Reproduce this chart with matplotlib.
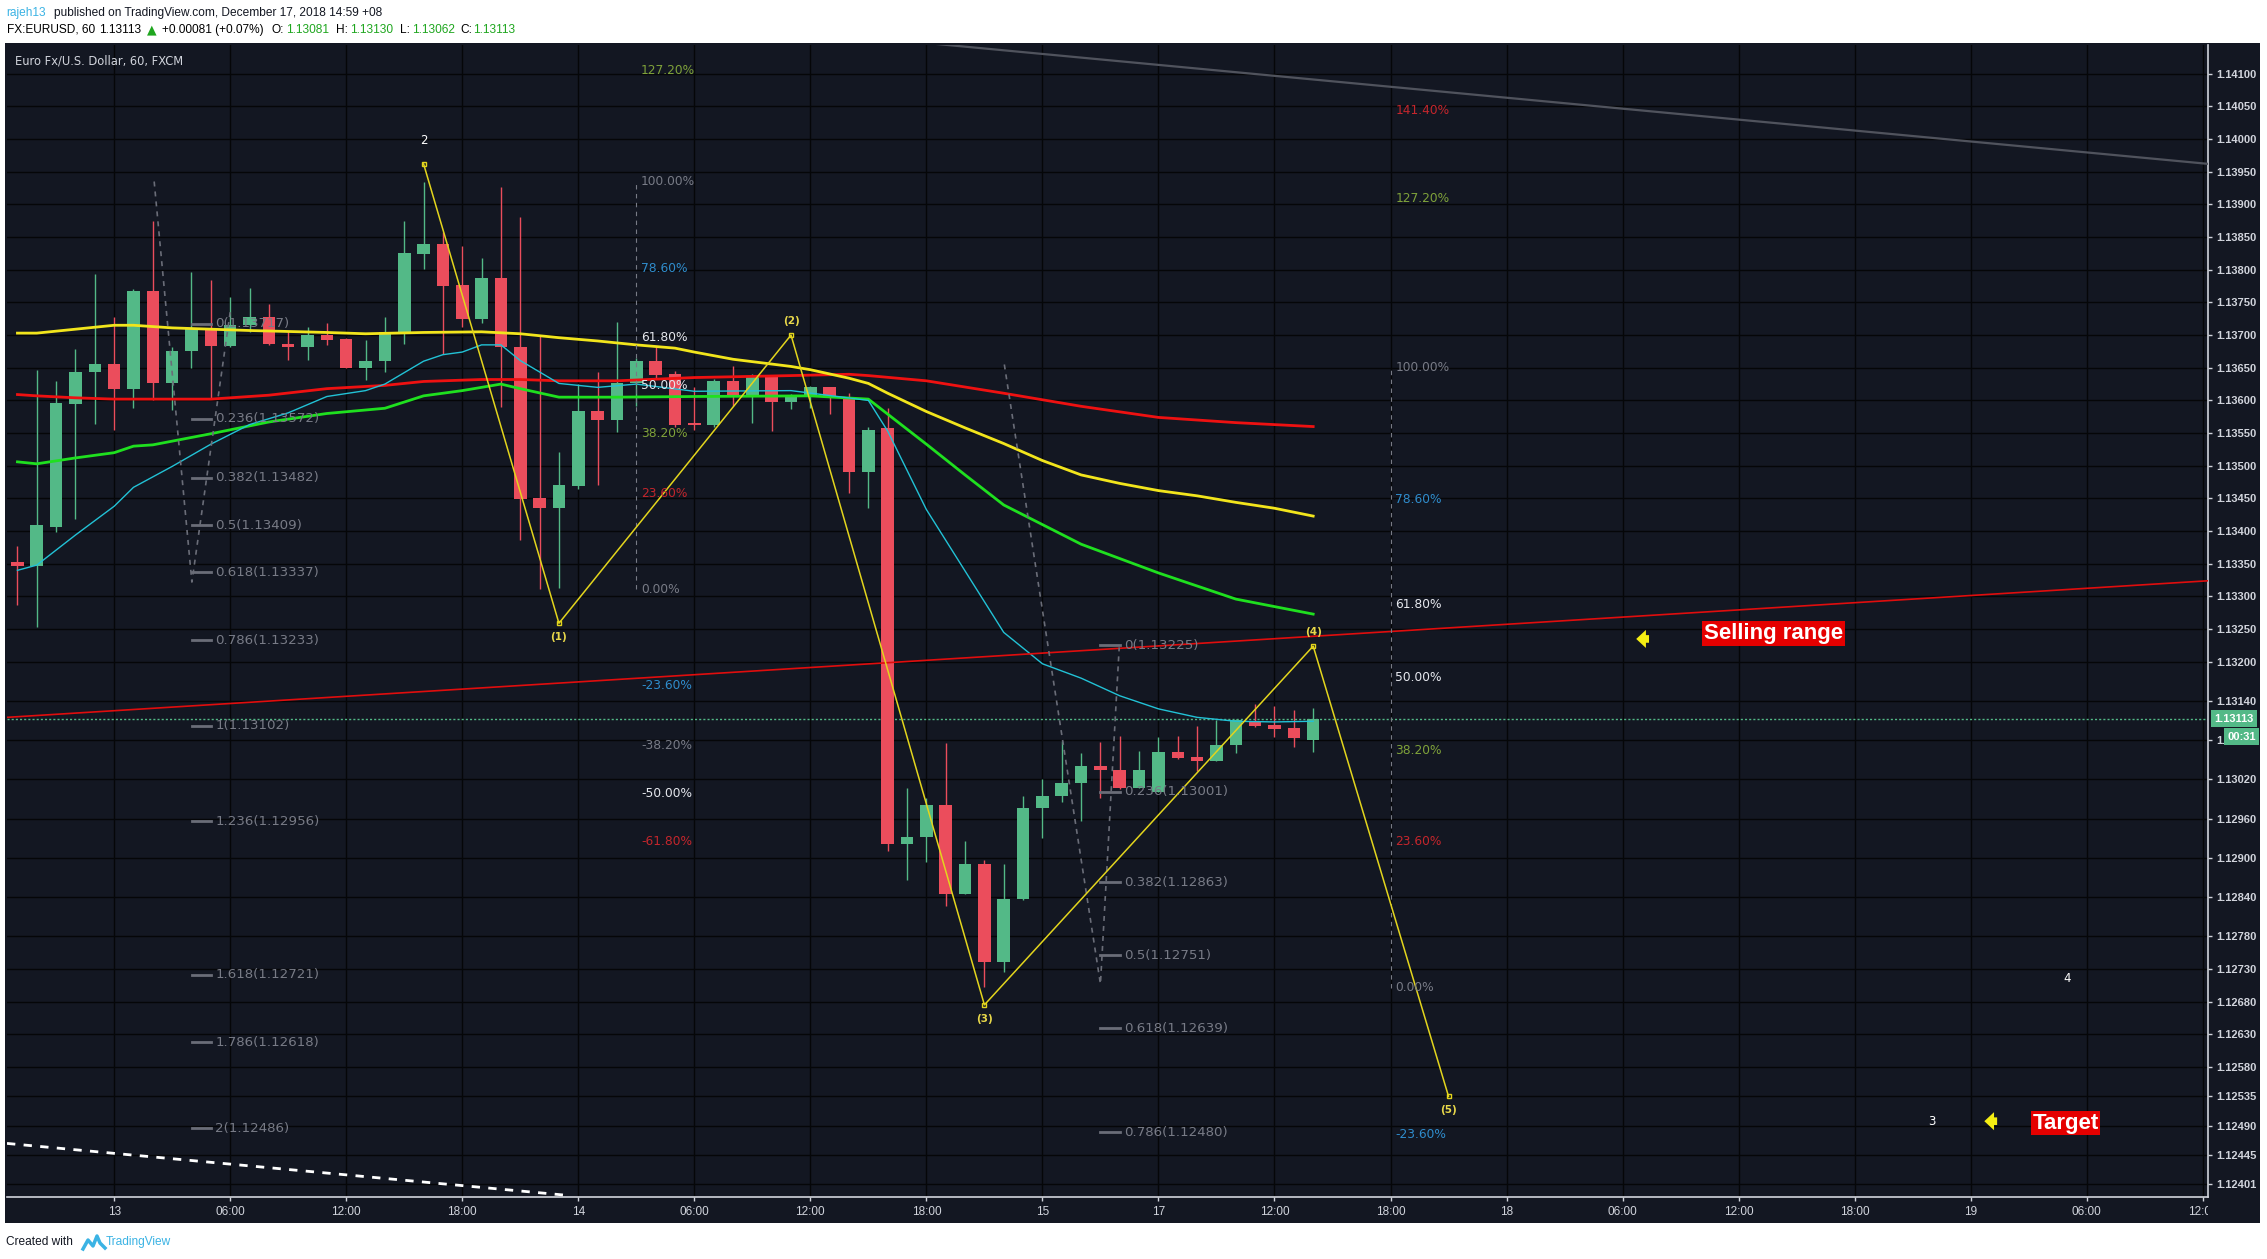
import numpy as np
import matplotlib.pyplot as plt
from matplotlib.patches import Rectangle
from matplotlib.lines import Line2D
from matplotlib.transforms import Bbox, TransformedBbox, blended_transform_factory

W, H = 2267, 1259

# hourly candles, x = bar index (0 = Dec 13 00:00)
bars = np.arange(-5, 63)
opens = [1.13352, 1.13347, 1.13407, 1.13595, 1.13643, 1.13656, 1.13618, 1.13768, 1.13626, 1.13675,
         1.13711, 1.13683, 1.13716, 1.13727, 1.13687, 1.13681, 1.13700, 1.13694, 1.13650, 1.13660,
         1.13703, 1.13824, 1.13840, 1.13776, 1.13724, 1.13788, 1.13682, 1.13450, 1.13435, 1.13469,
         1.13584, 1.13570, 1.13626, 1.13661, 1.13640, 1.13565, 1.13562, 1.13629, 1.13608, 1.13636,
         1.13598, 1.13606, 1.13620, 1.13606, 1.13491, 1.13558, 1.12921, 1.12932, 1.12981, 1.12845,
         1.12890, 1.12740, 1.12837, 1.12976, 1.12995, 1.13014, 1.13041, 1.13035, 1.13007, 1.13001,
         1.13062, 1.13054, 1.13048, 1.13073, 1.13109, 1.13104, 1.13098, 1.13081]
highs = [1.13377, 1.13647, 1.13630, 1.13679, 1.13793, 1.13727, 1.13770, 1.13875, 1.13681, 1.13796,
         1.13785, 1.13759, 1.13772, 1.13748, 1.13707, 1.13713, 1.13719, 1.13696, 1.13693, 1.13727,
         1.13875, 1.13934, 1.13858, 1.13837, 1.13818, 1.13926, 1.13881, 1.13700, 1.13521, 1.13625,
         1.13643, 1.13720, 1.13665, 1.13682, 1.13645, 1.13620, 1.13633, 1.13652, 1.13640, 1.13636,
         1.13610, 1.13622, 1.13620, 1.13611, 1.13559, 1.13589, 1.13007, 1.12992, 1.13076, 1.12926,
         1.12897, 1.12891, 1.12994, 1.13020, 1.13079, 1.13060, 1.13077, 1.13086, 1.13063, 1.13085,
         1.13086, 1.13102, 1.13111, 1.13113, 1.13135, 1.13133, 1.13126, 1.13130]
lows = [1.13287, 1.13253, 1.13399, 1.13418, 1.13564, 1.13554, 1.13589, 1.13600, 1.13586, 1.13650,
        1.13604, 1.13681, 1.13704, 1.13685, 1.13662, 1.13662, 1.13685, 1.13649, 1.13631, 1.13643,
        1.13687, 1.13801, 1.13671, 1.13713, 1.13719, 1.13590, 1.13387, 1.13312, 1.13313, 1.13465,
        1.13470, 1.13552, 1.13591, 1.13635, 1.13560, 1.13554, 1.13559, 1.13592, 1.13565, 1.13553,
        1.13587, 1.13588, 1.13579, 1.13458, 1.13435, 1.12910, 1.12866, 1.12893, 1.12826, 1.12844,
        1.12702, 1.12725, 1.12835, 1.12930, 1.12985, 1.12957, 1.12992, 1.13005, 1.13007, 1.13001,
        1.13052, 1.13033, 1.13048, 1.13060, 1.13101, 1.13085, 1.13069, 1.13062]
closes = [1.13347, 1.13409, 1.13596, 1.13644, 1.13656, 1.13618, 1.13768, 1.13626, 1.13676, 1.13711,
          1.13683, 1.13716, 1.13727, 1.13686, 1.13681, 1.13700, 1.13693, 1.13650, 1.13661, 1.13704,
          1.13825, 1.13840, 1.13775, 1.13724, 1.13788, 1.13681, 1.13449, 1.13435, 1.13470, 1.13584,
          1.13570, 1.13627, 1.13661, 1.13639, 1.13563, 1.13562, 1.13629, 1.13608, 1.13636, 1.13598,
          1.13608, 1.13620, 1.13605, 1.13491, 1.13555, 1.12921, 1.12932, 1.12981, 1.12845, 1.12890,
          1.12740, 1.12837, 1.12976, 1.12995, 1.13014, 1.13041, 1.13035, 1.13007, 1.13035, 1.13062,
          1.13053, 1.13048, 1.13073, 1.13111, 1.13102, 1.13097, 1.13084, 1.13113]

# moving averages (read at a few bars)
ma_yellow_x = [-5, -4, -1, 0, 1, 3, 7, 11, 13, 16, 19, 21, 23, 25, 27, 29, 30, 32, 35, 36, 38, 39, 40,
               42, 44, 46, 48, 50, 52, 54, 56, 58, 60, 62]
ma_yellow_y = [1.13703, 1.13703, 1.13712, 1.13715, 1.13715, 1.13711, 1.13707, 1.13704, 1.13702, 1.13704,
               1.13705, 1.13702, 1.13696, 1.13691, 1.13685, 1.13680, 1.13674, 1.13663, 1.13652, 1.13647,
               1.13634, 1.13626, 1.13611, 1.13583, 1.13558, 1.13534, 1.13508, 1.13486, 1.13473, 1.13462,
               1.13454, 1.13444, 1.13435, 1.13423]
ma_red_x = [-5, -4, -2, 0, 5, 6, 8, 11, 14, 16, 19, 21, 23, 26, 30, 35, 38, 39, 42, 46, 50, 54, 58, 62]
ma_red_y = [1.13609, 1.13607, 1.13604, 1.13602, 1.13602, 1.13604, 1.13608, 1.13618, 1.13623, 1.13629,
            1.13632, 1.13632, 1.13630, 1.13630, 1.13635, 1.13638, 1.13640, 1.13638, 1.13630, 1.13611,
            1.13591, 1.13574, 1.13566, 1.13560]
ma_green_x = [-5, -4, -2, 0, 1, 2, 5, 8, 11, 14, 16, 18, 20, 21, 23, 26, 30, 36, 39, 42, 44, 46, 50, 54,
              58, 62]
ma_green_y = [1.13506, 1.13503, 1.13512, 1.13520, 1.13530, 1.13532, 1.13549, 1.13567, 1.13580, 1.13588,
              1.13607, 1.13615, 1.13625, 1.13618, 1.13605, 1.13605, 1.13606, 1.13607, 1.13602, 1.13533,
              1.13486, 1.13440, 1.13380, 1.13336, 1.13296, 1.13273]
ma_cyan_x = [-5, -4, -2, 0, 1, 3, 5, 7, 9, 11, 13, 14, 16, 17, 18, 19, 20, 21, 23, 25, 27, 30, 35, 39,
             40, 42, 44, 46, 48, 50, 52, 54, 56, 58, 60, 62]
ma_cyan_y = [1.13340, 1.13348, 1.13394, 1.13438, 1.13467, 1.13499, 1.13533, 1.13563, 1.13581, 1.13606,
             1.13615, 1.13625, 1.13660, 1.13670, 1.13674, 1.13685, 1.13685, 1.13661, 1.13626, 1.13620,
             1.13625, 1.13614, 1.13615, 1.13600, 1.13553, 1.13433, 1.13339, 1.13245, 1.13197, 1.13175,
             1.13148, 1.13128, 1.13115, 1.13109, 1.13108, 1.13109]

# elliott wave count
wave_x = [16, 23, 35, 45, 62, 69]
wave_y = [1.13962, 1.13259, 1.13700, 1.12675, 1.13224, 1.12535]
wave_labels = ['', '(1)', '(2)', '(3)', '(4)', '(5)']

# trend-based fib extensions
fibA_path_x = [2.07, 4.02, 6.0]
fibA_path_y = [1.13935, 1.13322, 1.13735]
fibA_ratio = ['0', '0.236', '0.382', '0.5', '0.618', '0.786', '1', '1.236', '1.618', '1.786', '2']
fibA_price = [1.13717, 1.13572, 1.13482, 1.13409, 1.13337, 1.13233, 1.13102, 1.12956, 1.12721, 1.12618, 1.12486]
fibB_path_x = [46.03, 51.0, 51.97]
fibB_path_y = [1.13655, 1.12707, 1.13222]
fibB_ratio = ['0', '0.236', '0.382', '0.5', '0.618', '0.786']
fibB_price = [1.13225, 1.13001, 1.12863, 1.12751, 1.12639, 1.12480]

# fib retracement labels (percent)
ret1_x, ret1_lo, ret1_hi = 27, 1.13311, 1.13935
ret1_pct = ['127.20%', '100.00%', '78.60%', '61.80%', '50.00%', '38.20%', '23.60%', '0.00%',
            '-23.60%', '-38.20%', '-50.00%', '-61.80%']
ret1_lvl = [1.272, 1.0, 0.786, 0.618, 0.5, 0.382, 0.236, 0.0, -0.236, -0.382, -0.5, -0.618]
ret2_x, ret2_lo, ret2_hi = 66, 1.12701, 1.13651
ret2_pct = ['141.40%', '127.20%', '100.00%', '78.60%', '61.80%', '50.00%', '38.20%', '23.60%', '0.00%', '-23.60%']
ret2_lvl = [1.414, 1.272, 1.0, 0.786, 0.618, 0.5, 0.382, 0.236, 0.0, -0.236]
pct_colors = {'141.40%': '#c4262c', '127.20%': '#7fa23a', '100.00%': '#787b86', '78.60%': '#2f8ccc',
              '61.80%': '#e6e8ee', '50.00%': '#e6e8ee', '38.20%': '#7fa23a', '23.60%': '#c4262c',
              '0.00%': '#787b86', '-23.60%': '#2f8ccc', '-38.20%': '#787b86', '-50.00%': '#e6e8ee',
              '-61.80%': '#c4262c'}

# trend lines
red_tl_x, red_tl_y = [-5.54, 108.27], [1.13115, 1.13324]
gray_tl_x, gray_tl_y = [42.34, 108.27], [1.14146, 1.13962]
white_tl_x, white_tl_y = [-5.54, 23.26], [1.12463, 1.12384]

# axis ticks
xtick_pos = [0, 6, 12, 18, 24, 30, 36, 42, 48, 54, 60, 66, 72, 78, 84, 90, 96, 102, 108]
xtick_lab = ['13', '06:00', '12:00', '18:00', '14', '06:00', '12:00', '18:00', '15', '17', '12:00',
             '18:00', '18', '06:00', '12:00', '18:00', '19', '06:00', '12:00']
ytick_pos = [1.14100, 1.14050, 1.14000, 1.13950, 1.13900, 1.13850, 1.13800, 1.13750, 1.13700, 1.13650,
             1.13600, 1.13550, 1.13500, 1.13450, 1.13400, 1.13350, 1.13300, 1.13250, 1.13200, 1.13140,
             1.13080, 1.13020, 1.12960, 1.12900, 1.12840, 1.12780, 1.12730, 1.12680, 1.12630, 1.12580,
             1.12535, 1.12490, 1.12445, 1.12401]

BG = '#131722'
UP, DN = '#53b987', '#eb4d5c'
AX = '#d1d4dc'

fig = plt.figure(figsize=(W / 100, H / 100), dpi=100)
fig.patch.set_facecolor('white')
fig.add_artist(Rectangle((5 / W, 1 - 1223 / H), 2255 / W, 1180 / H, transform=fig.transFigure,
                         facecolor=BG, edgecolor='none', zorder=-10))

ax = fig.add_axes([7 / W, 1 - 1197 / H, 2201 / W, 1152 / H])
ax.set_facecolor(BG)
ax.set_xlim(-5.54, 108.27)
ax.set_ylim(1.12381, 1.141439)

for s in ['top', 'left']:
    ax.spines[s].set_visible(False)
for s in ['right', 'bottom']:
    ax.spines[s].set_color(AX)
    ax.spines[s].set_linewidth(1.2)

ax.yaxis.tick_right()
ax.set_yticks(ytick_pos)
ax.set_yticklabels(['%.5f' % v for v in ytick_pos])
ax.set_xticks(xtick_pos)
ax.set_xticklabels(xtick_lab)
ax.tick_params(axis='y', colors=AX, length=3, width=1, pad=3, labelsize=8)
ax.tick_params(axis='x', colors=AX, length=3, width=1, pad=3.5, labelsize=8.5)
for lbl in ax.get_yticklabels():
    lbl.set_fontfamily('Liberation Sans')
    lbl.set_fontweight('bold')
for lbl in ax.get_xticklabels():
    lbl.set_fontfamily('Liberation Sans')
clip = TransformedBbox(Bbox([[0, 0], [2208 / W, 1]]), fig.transFigure)
last = ax.get_xticklabels()[-1]
last.set_clip_box(clip)
last.set_clip_on(True)
ax.grid(True, color='#050608', lw=1)
ax.set_axisbelow(True)

# candles
o, h, l, c = map(np.array, (opens, highs, lows, closes))
col = np.where(c >= o, UP, DN)
ax.vlines(bars, l, h, colors=col, lw=1, zorder=3)
body = np.maximum(np.abs(c - o), 0.00003)
ax.bar(bars, body, bottom=np.minimum(o, c), width=0.65, color=col, zorder=3)

# current price line
ax.axhline(closes[-1], color=UP, lw=1, ls=(0, (1.5, 1.5)), zorder=2)

# moving averages
ax.plot(ma_red_x, ma_red_y, color='#ee1111', lw=2.0, zorder=4)
ax.plot(ma_yellow_x, ma_yellow_y, color='#f2e51c', lw=2.0, zorder=4)
ax.plot(ma_green_x, ma_green_y, color='#1fe01f', lw=2.0, zorder=4)
ax.plot(ma_cyan_x, ma_cyan_y, color='#22c2d6', lw=1.0, zorder=4)

# trend lines
ax.plot(red_tl_x, red_tl_y, color='#e00d0d', lw=1.2, zorder=4)
ax.plot(gray_tl_x, gray_tl_y, color='#50535d', lw=1.6, zorder=4)
ax.plot(white_tl_x, white_tl_y, color='white', lw=2, ls=(0, (3, 3)), zorder=4)

# fib extensions
GR = '#6a6d78'
for px, py, ratios, prices, x0 in [(fibA_path_x, fibA_path_y, fibA_ratio, fibA_price, 4.02),
                                   (fibB_path_x, fibB_path_y, fibB_ratio, fibB_price, 51.0)]:
    ax.plot(px, py, color=GR, lw=1.2, ls=(0, (3, 3)), zorder=4)
    for r, p in zip(ratios, prices):
        ax.plot([x0, x0 + 1.0], [p, p], color=GR, lw=2, zorder=4)
        ax.text(x0 + 1.2, p, '%s(%.5f)' % (r, p), color='#787b86', fontsize=9.6,
                va='center', ha='left', zorder=6)

# fib retracement labels
for xr, lo, hi, pcts, lvls in [(ret1_x, ret1_lo, ret1_hi, ret1_pct, ret1_lvl),
                               (ret2_x, ret2_lo, ret2_hi, ret2_pct, ret2_lvl)]:
    ax.plot([xr, xr], [lo, hi], color='#787b86', lw=0.8, ls=(0, (4, 4)), zorder=4)
    for t, k in zip(pcts, lvls):
        ax.text(xr + 0.25, lo + k * (hi - lo), t, color=pct_colors[t], fontsize=8.8,
                va='center', ha='left', zorder=6)

# wave count
ax.plot(wave_x, wave_y, color='#e3d51d', lw=1.1, marker='s', ms=2.5, mfc='none', zorder=5)
for k, (x, y, t) in enumerate(zip(wave_x, wave_y, wave_labels)):
    if not t:
        continue
    dy = 10 if k % 2 == 0 else -10
    ax.annotate(t, (x, y), xytext=(0, dy), textcoords='offset points', ha='center', va='center',
                color='#e8d84a', fontsize=7.5, fontweight='bold', zorder=6)
ax.text(16, 1.13998, '2', color='white', fontsize=8.5, ha='center', va='center', zorder=6)
ax.text(101, 1.12715, '4', color='white', fontsize=8.5, ha='center', va='center', zorder=6)
ax.text(94, 1.12496, '3', color='white', fontsize=8.5, ha='center', va='center', zorder=6)

# callouts
ARW = '#f5ee13'
for tip, y in [(78.56, 1.13235), (96.56, 1.12497)]:
    ax.annotate('', xy=(tip, y), xytext=(tip + 0.95, y),
                arrowprops=dict(arrowstyle='simple,head_length=0.7,head_width=1.3,tail_width=0.55',
                                color=ARW, lw=0), zorder=6)
box = dict(boxstyle='square,pad=0.08', fc='#e50000', ec='none')
ax.text(85.8, 1.13243, 'Selling range', color='white', fontsize=16, fontweight='bold',
        family='Liberation Sans', ha='center', va='center', bbox=box, zorder=7)
ax.text(100.9, 1.12494, 'Target', color='white', fontsize=16, fontweight='bold',
        family='Liberation Sans', ha='center', va='center', bbox=box, zorder=7)

# chart title
fig.text(15 / W, 1 - 61 / H, 'Euro Fx/U.S. Dollar, 60, FXCM', color=AX, fontsize=8.3,
         va='center', ha='left')

# last price tag
tr = blended_transform_factory(ax.transAxes, ax.transData)
ax.annotate('%.5f' % closes[-1], xy=(1, closes[-1]), xycoords=tr, xytext=(6, 0),
            textcoords='offset pixels', ha='left', va='center', color='white', fontsize=8,
            fontweight='bold', family='Liberation Sans', annotation_clip=False, zorder=10,
            bbox=dict(boxstyle='square,pad=0.3', fc=UP, ec='none'))
ax.annotate('00:31', xy=(1, closes[-1]), xycoords=tr, xytext=(19, -18),
            textcoords='offset pixels', ha='left', va='center', color='white', fontsize=8,
            fontweight='bold', family='Liberation Sans', annotation_clip=False, zorder=10,
            bbox=dict(boxstyle='square,pad=0.3', fc=UP, ec='none'))

# header
HF = dict(fontsize=8.6, family='Liberation Sans', va='center', ha='left')
fig.text(6.7 / W, 1 - 13 / H, 'rajeh13', color='#3bb3e4', **HF)
fig.text(53.6 / W, 1 - 13 / H, 'published on TradingView.com, December 17, 2018 14:59 +08', color='#131722', **HF)
pieces = [(6.7, 'FX:EURUSD, 60', 'black'), (99, '1.13113', 'black'),
          (161.6, '+0.00081 (+0.07%)', 'black'), (272, 'O:', 'black'), (285.7, '1.13081', '#1fa61f'),
          (335.7, 'H:', 'black'), (350, '1.13130', '#1fa61f'), (399.6, 'L:', 'black'),
          (411.6, '1.13062', '#1fa61f'), (460.7, 'C:', 'black'), (473, '1.13113', '#1fa61f')]
for x, t, cl in pieces:
    fig.text(x / W, 1 - 30 / H, t, color=cl, **HF)
fig.text(147 / W, 1 - 30 / H, '\u25b2', color='#1fa61f', fontsize=9, va='center', ha='left')

# footer
fig.text(5.9 / W, 1 - 1242 / H, 'Created with', color='#131722', **HF)
fig.add_artist(Line2D(np.array([83, 88, 93, 97, 100, 105]) / W,
                      1 - np.array([1249, 1240, 1246, 1236, 1243, 1248]) / H,
                      color='#3bb3e4', lw=2.5, transform=fig.transFigure))
fig.text(106 / W, 1 - 1242 / H, 'TradingView', color='#3bb3e4', **HF)

fig.savefig('out.png', dpi=100, facecolor='white')
